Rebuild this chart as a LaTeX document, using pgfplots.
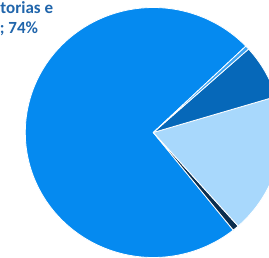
\documentclass[border=0pt]{standalone}
\usepackage{pgfplots}
\pgfplotsset{compat=1.18}
\usepackage{fontspec}
\setmainfont{Carlito}
\definecolor{cmain}{HTML}{058AF0}
\definecolor{cnavy}{HTML}{0B2E4E}
\definecolor{clight}{HTML}{A8D8FC}
\definecolor{cdark}{HTML}{0668B9}
\definecolor{csliver}{HTML}{3CA3F2}
\definecolor{ctext}{HTML}{2065AB}
\begin{document}
\begin{tikzpicture}[x=1pt,y=1pt]
% shares in percent
\def\pMain{73.6}\def\pNavy{0.8}\def\pLight{18.1}\def\pDark{7.0}\def\pSliver{0.5}
\pgfmathsetmacro{\aA}{43.7}
\pgfmathsetmacro{\aB}{\aA+3.6*\pMain}
\pgfmathsetmacro{\aC}{\aB+3.6*\pNavy}
\pgfmathsetmacro{\aD}{\aC+3.6*\pLight}
\pgfmathsetmacro{\aE}{\aD+3.6*\pDark}
\pgfmathsetmacro{\aF}{\aE+3.6*\pSliver}
\path[use as bounding box, clip] (0,0) rectangle (269,258);
\begin{axis}[at={(153.3pt,125.5pt)}, anchor=origin, x=128pt, y=125pt,
  hide axis, xmin=-1.1, xmax=1.1, ymin=-1.1, ymax=1.1, clip=false,
  every axis plot/.append style={draw=white, line width=0.8pt, line join=round}]
\addplot[fill=cmain, domain=\aA:\aB, samples=150] ({cos(x)},{sin(x)}) -- (axis cs:0,0) -- cycle;
\addplot[fill=cnavy, domain=\aB:\aC, samples=5] ({cos(x)},{sin(x)}) -- (axis cs:0,0) -- cycle;
\addplot[fill=clight, domain=\aC:\aD, samples=50] ({cos(x)},{sin(x)}) -- (axis cs:0,0) -- cycle;
\addplot[fill=cdark, domain=\aD:\aE, samples=25] ({cos(x)},{sin(x)}) -- (axis cs:0,0) -- cycle;
\addplot[fill=csliver, domain=\aE:\aF, samples=5] ({cos(x)},{sin(x)}) -- (axis cs:0,0) -- cycle;
\end{axis}
\node[anchor=base east, inner sep=0pt, text=ctext, font=\bfseries\fontsize{17}{20}\selectfont] at (53.3,244.2) {torias e};
\node[anchor=base east, inner sep=0pt, text=ctext, font=\bfseries\fontsize{17}{20}\selectfont] at (38.3,224.8) {; 74\%};
\end{tikzpicture}
\end{document}
